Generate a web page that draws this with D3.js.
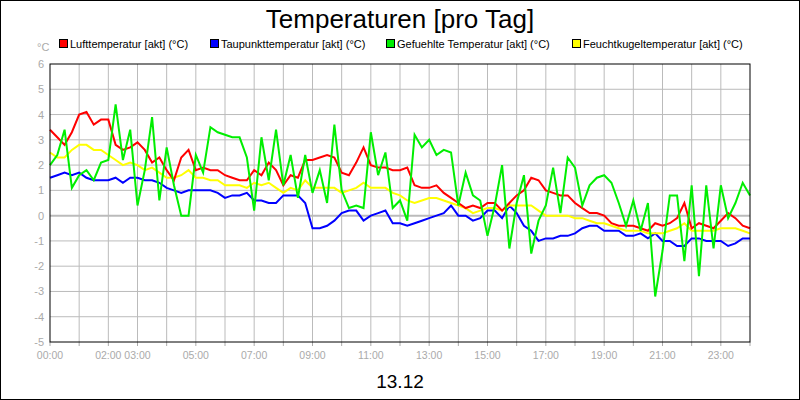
<!DOCTYPE html>
<html><head><meta charset="utf-8">
<script src="https://cdn.jsdelivr.net/npm/d3@7"></script>
<style>body{margin:0;background:#fff}svg{display:block;font-family:"Liberation Sans",Arial,sans-serif}</style>
</head><body><svg id="chart" width="800" height="400"></svg>
<script>
// quarter-hour readings, 00:00 .. 24:00
const hours = d3.range(0, 24.01, 0.25);
const luft = [3.4,3.1,2.8,3.3,4.0,4.1,3.6,3.8,3.8,2.8,2.6,2.7,2.9,2.6,2.1,2.3,1.8,1.4,2.3,2.6,1.8,1.9,1.8,1.8,1.6,1.5,1.4,1.4,1.8,1.6,2.1,1.8,1.2,1.6,1.5,2.2,2.2,2.3,2.4,2.3,1.7,1.6,2.1,2.7,2.0,1.9,1.9,1.8,1.8,1.9,1.2,1.1,1.1,1.2,0.9,0.7,0.5,0.3,0.4,0.3,0.5,0.5,0.2,0.5,0.8,1.0,1.5,1.4,1.0,0.9,0.8,0.8,0.5,0.3,0.1,0.1,0.0,-0.3,-0.4,-0.4,-0.4,-0.5,-0.6,-0.3,-0.4,-0.3,-0.1,0.5,-0.5,-0.3,-0.4,-0.5,-0.2,0.1,-0.1,-0.4,-0.5];
const taupunkt = [1.5,1.6,1.7,1.6,1.7,1.5,1.4,1.4,1.4,1.5,1.3,1.5,1.5,1.4,1.4,1.3,1.1,1.0,0.9,1.0,1.0,1.0,1.0,0.9,0.7,0.8,0.8,0.9,0.6,0.6,0.5,0.5,0.8,0.8,0.8,0.5,-0.5,-0.5,-0.4,-0.2,0.1,0.2,0.2,-0.2,0.0,0.1,0.2,-0.3,-0.3,-0.4,-0.3,-0.2,-0.1,0.0,0.1,0.4,0.0,0.0,-0.2,-0.1,0.2,0.2,-0.1,0.4,0.1,-0.4,-0.6,-1.0,-0.9,-0.9,-0.8,-0.8,-0.7,-0.5,-0.4,-0.4,-0.6,-0.6,-0.6,-0.8,-0.8,-0.7,-0.9,-0.7,-1.0,-1.0,-1.2,-1.2,-0.9,-0.9,-1.0,-1.0,-1.0,-1.2,-1.1,-0.9,-0.9];
const gefuehlt = [2.0,2.4,3.4,1.1,1.6,1.8,1.4,2.1,2.2,4.4,2.2,3.4,0.4,1.8,3.9,0.6,2.7,1.2,0.0,0.0,2.4,1.7,3.5,3.3,3.2,3.1,3.1,2.3,0.2,3.1,1.4,3.4,1.2,2.4,0.7,2.4,0.9,1.8,0.5,3.6,1.0,0.3,0.4,0.3,3.3,1.6,2.5,0.3,0.6,-0.2,3.2,2.7,3.0,2.4,2.6,2.5,0.4,1.7,0.8,0.6,-0.8,0.4,2.0,-1.3,0.5,1.6,-1.5,-0.2,0.4,1.9,0.1,2.3,1.9,0.4,1.2,1.5,1.6,1.3,0.5,-0.4,0.6,-0.6,0.5,-3.2,-1.4,0.8,0.8,-1.8,1.2,-2.4,1.2,-1.3,1.2,-0.1,0.5,1.3,0.8];
const feucht = [2.5,2.3,2.3,2.6,2.8,2.8,2.6,2.6,2.4,2.2,2.0,2.1,2.0,1.8,1.9,1.7,1.5,1.5,1.6,1.8,1.5,1.5,1.4,1.4,1.2,1.2,1.2,1.1,1.3,1.2,1.3,1.1,0.9,1.1,1.0,1.4,1.1,1.1,1.1,1.1,0.9,1.0,1.1,1.3,1.1,1.1,1.1,0.9,0.8,0.6,0.5,0.6,0.7,0.7,0.6,0.5,0.4,0.3,0.1,0.2,0.3,0.3,0.2,0.4,0.4,0.4,0.4,0.2,0.0,0.0,0.0,0.0,-0.1,-0.1,-0.2,-0.3,-0.3,-0.4,-0.5,-0.6,-0.6,-0.6,-0.7,-0.7,-0.7,-0.6,-0.5,-0.3,-0.6,-0.6,-0.6,-0.6,-0.5,-0.5,-0.5,-0.6,-0.7];

const seriesNames = ["Lufttemperatur [akt] (°C)","Taupunkttemperatur [akt] (°C)","Gefuehlte Temperatur [akt] (°C)","Feuchtkugeltemperatur [akt] (°C)"];
const seriesColors = ["#ff0000","#0000ff","#00ee00","#ffff00"];
const seriesData = [luft, taupunkt, gefuehlt, feucht];
const drawOrder = [1,3,0,2];
const xLabels = [[0,"00:00"],[2,"02:00"],[3,"03:00"],[5,"05:00"],[7,"07:00"],[9,"09:00"],[11,"11:00"],[13,"13:00"],[15,"15:00"],[17,"17:00"],[19,"19:00"],[21,"21:00"],[23,"23:00"]];

const svg = d3.select("#chart");
const x = d3.scaleLinear().domain([0,24]).range([50,750]);
const y = d3.scaleLinear().domain([-5,6]).range([342,64]);

svg.append("rect").attr("x",0.5).attr("y",0.5).attr("width",799).attr("height",399).attr("fill","none").attr("stroke","#000");

svg.append("text").attr("x",400).attr("y",28).attr("text-anchor","middle").attr("font-size",26).text("Temperaturen [pro Tag]");
svg.append("text").attr("x",400).attr("y",388).attr("text-anchor","middle").attr("font-size",19).text("13.12");

// legend
const legX = [59,210,386,572];
seriesNames.forEach(function(n,i){
    svg.append("rect").attr("x",legX[i]+0.5).attr("y",39.5).attr("width",8).attr("height",8)
        .attr("fill",seriesColors[i]).attr("stroke","#000");
    svg.append("text").attr("x",legX[i]+11).attr("y",48).attr("font-size",11).text(n);
});

// grid
svg.append("g").selectAll("line").data(d3.range(1,24)).enter().append("line")
    .attr("x1",d=>x(d)).attr("x2",d=>x(d)).attr("y1",64).attr("y2",342).attr("stroke","#bbb");
svg.append("g").selectAll("line").data(d3.range(-4,6)).enter().append("line")
    .attr("x1",50).attr("x2",750).attr("y1",d=>y(d)).attr("y2",d=>y(d))
    .attr("stroke","#bbb").attr("stroke-width",d=>d===0?2:1);

// y labels
svg.append("g").selectAll("text").data(d3.range(-5,7)).enter().append("text")
    .attr("x",44).attr("y",d=>y(d)+4).attr("text-anchor","end").attr("font-size",11).attr("fill","#aaa").text(d=>d);
svg.append("text").attr("x",37).attr("y",51).attr("font-size",11).attr("fill","#aaa").text("°C");

// x ticks and labels
svg.append("g").selectAll("line").data(d3.range(0,25)).enter().append("line")
    .attr("x1",d=>x(d)).attr("x2",d=>x(d)).attr("y1",342).attr("y2",346).attr("stroke","#aaa");
svg.append("g").selectAll("text").data(xLabels).enter().append("text")
    .attr("x",d=>x(d[0])).attr("y",359).attr("text-anchor","middle").attr("font-size",10.5).attr("fill","#aaa").text(d=>d[1]);

// lines
const line = d3.line().x((d,i)=>x(hours[i])).y(d=>y(d));
drawOrder.forEach(function(i){
    svg.append("path").datum(seriesData[i]).attr("d",line)
        .attr("fill","none").attr("stroke",seriesColors[i]).attr("stroke-width",2);
});

svg.append("rect").attr("x",50).attr("y",64).attr("width",700).attr("height",278)
    .attr("fill","none").attr("stroke","#000");
</script></body></html>
